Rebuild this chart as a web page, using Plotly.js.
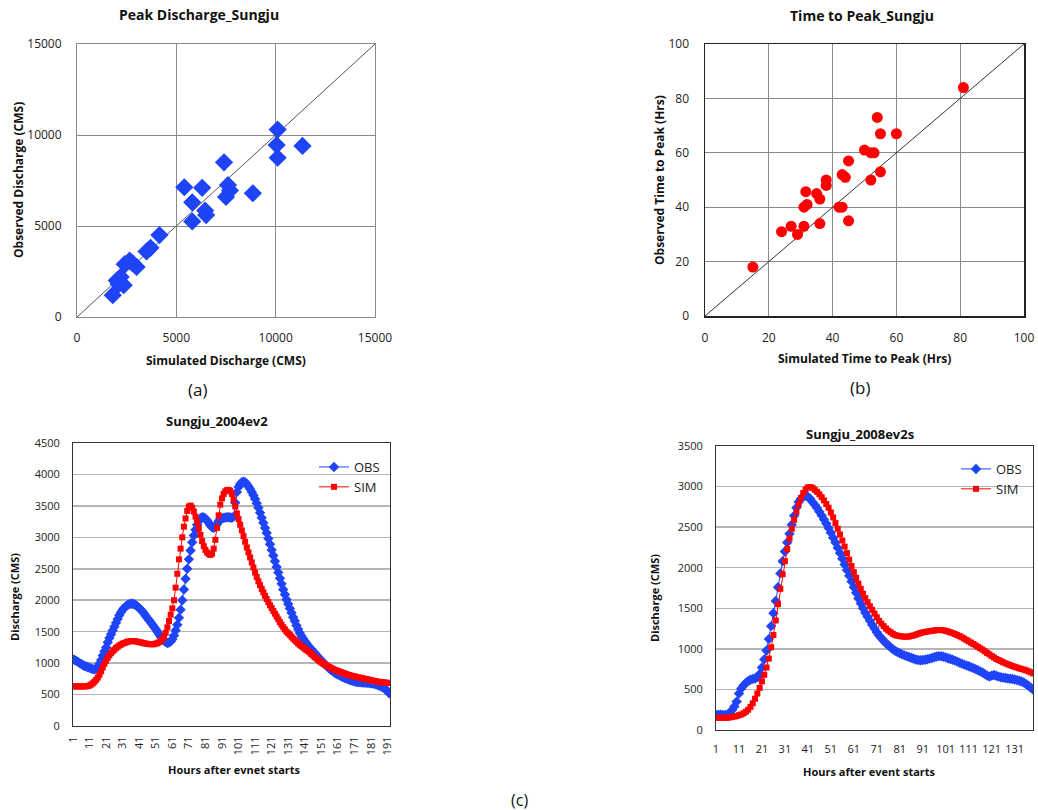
<!DOCTYPE html>
<html>
<head>
<meta charset="utf-8">
<script src="https://cdn.plot.ly/plotly-3.0.1.min.js"></script>
<style>html,body{margin:0;padding:0;background:#fff;}#chart{width:1038px;height:810px;}</style>
</head>
<body>
<div id="chart"></div>
<script>
// ---------- (a) Peak discharge, Sungju ----------
const peakSim = [10100, 10050, 11350, 10100, 7400, 5400, 6300, 7600, 7700, 7500, 8850, 5800, 6450, 6500, 5800, 4150, 3700, 3500, 2650, 2800, 3000, 2400, 2200, 2000, 2350, 1800, 2100];
const peakObs = [10300, 9450, 9400, 8750, 8500, 7130, 7100, 7250, 6950, 6600, 6800, 6300, 5850, 5600, 5250, 4500, 3800, 3600, 3100, 2950, 2750, 2900, 2200, 2000, 1750, 1200, 1800];
const peakLine = [0, 15000];
const peakTicks = [0, 5000, 10000, 15000];

// ---------- (b) Time to peak, Sungju ----------
const ttpSim = [81, 54, 55, 60, 50, 52, 53, 45, 43, 44, 55, 52, 38, 38, 31.6, 35, 36, 32, 31, 42, 43, 45, 36, 27, 31, 24, 29, 15];
const ttpObs = [84, 73, 67, 67, 61, 60, 60, 57, 52, 51, 53, 50, 50, 48, 45.7, 45, 43, 41, 40, 40, 40, 35, 34, 33, 33, 31, 30, 18];
const ttpLine = [0, 100];
const ttpTicks = [0, 20, 40, 60, 80, 100];

// ---------- (c) Sungju_2004ev2 (hours 1..192) ----------
const obs2004 = [
 1060,1050,1035,1020,1000,985,970,955,945,935,
 925,915,905,900,910,940,990,1050,1120,1190,
 1250,1330,1400,1460,1520,1580,1640,1700,1760,1810,
 1850,1880,1905,1925,1938,1945,1945,1935,1920,1900,
 1875,1850,1820,1785,1750,1715,1680,1645,1610,1575,
 1540,1500,1460,1420,1385,1355,1335,1320,1325,1345,
 1380,1440,1520,1610,1720,1850,2000,2170,2340,2500,
 2650,2790,2920,3030,3120,3200,3260,3300,3320,3315,
 3300,3270,3230,3190,3160,3150,3170,3210,3260,3290,
 3300,3310,3315,3320,3320,3315,3310,3330,3550,3720,
 3800,3850,3875,3885,3875,3850,3810,3770,3720,3670,
 3610,3540,3470,3390,3310,3230,3150,3070,2980,2890,
 2800,2710,2620,2530,2440,2350,2260,2170,2090,2010,
 1940,1870,1800,1730,1670,1600,1540,1480,1430,1390,
 1350,1315,1280,1250,1220,1190,1160,1130,1100,1070,
 1040,1010,985,960,935,910,890,870,850,835,
 820,805,792,780,768,756,745,735,725,717,
 710,704,700,697,694,692,690,688,686,684,
 680,676,670,662,652,642,630,616,600,582,
 555,520];
const sim2004 = [
 630,630,630,630,630,630,630,630,632,635,
 645,660,680,705,735,770,815,870,930,990,
 1040,1085,1125,1160,1190,1215,1240,1260,1280,1295,
 1310,1320,1330,1340,1345,1350,1352,1350,1345,1340,
 1335,1328,1322,1316,1310,1305,1302,1300,1300,1302,
 1308,1318,1332,1350,1380,1420,1480,1570,1670,1770,
 1870,2000,2200,2420,2650,2820,3000,3170,3300,3420,
 3490,3505,3470,3410,3330,3240,3140,3040,2940,2860,
 2800,2760,2735,2720,2740,2820,2960,3150,3350,3520,
 3620,3690,3730,3750,3755,3740,3690,3600,3490,3380,
 3290,3200,3110,3020,2930,2840,2760,2680,2600,2520,
 2440,2370,2300,2240,2180,2125,2070,2020,1970,1920,
 1875,1830,1785,1740,1695,1650,1610,1570,1535,1500,
 1475,1450,1420,1390,1365,1340,1315,1290,1270,1250,
 1230,1210,1190,1170,1145,1120,1095,1075,1055,1030,
 1010,995,980,965,950,935,920,905,895,885,
 875,865,855,845,835,825,815,808,800,795,
 788,782,776,770,764,758,752,746,740,734,
 728,722,716,711,706,701,698,695,692,689,
 686,684];
const hours2004 = obs2004.map((_, i) => i + 1);
const ticks2004 = [1,11,21,31,41,51,61,71,81,91,101,111,121,131,141,151,161,171,181,191];

// ---------- (d) Sungju_2008ev2s (hours 1..139) ----------
const obs2008 = [
 185,190,190,185,185,190,210,245,290,350,
 450,510,550,580,605,620,630,635,650,690,
 770,870,980,1120,1280,1440,1590,1760,1930,2080,
 2200,2310,2420,2530,2640,2740,2810,2850,2880,2885,
 2875,2850,2810,2775,2735,2690,2645,2595,2545,2490,
 2430,2370,2310,2245,2180,2110,2040,1970,1900,1830,
 1760,1690,1620,1560,1500,1445,1395,1345,1295,1250,
 1205,1165,1130,1100,1070,1045,1020,995,975,960,
 945,932,920,910,900,890,878,868,862,860,
 862,866,872,880,888,896,905,910,908,903,
 895,885,875,865,855,843,830,818,806,796,
 786,775,763,750,737,722,708,690,670,660,
 670,678,668,658,650,645,640,636,632,628,
 622,615,607,598,585,565,545,522,500];
const sim2008 = [
 150,150,150,150,150,152,155,160,166,172,
 182,192,205,225,250,285,330,385,450,520,
 600,680,770,880,1020,1170,1350,1550,1740,1920,
 2080,2230,2360,2480,2590,2690,2780,2860,2920,2965,
 2990,2995,2985,2960,2935,2905,2870,2830,2785,2740,
 2680,2620,2550,2480,2410,2335,2260,2180,2100,2020,
 1945,1875,1805,1740,1680,1625,1575,1525,1480,1435,
 1390,1345,1310,1280,1250,1225,1205,1185,1170,1162,
 1157,1153,1150,1150,1152,1158,1165,1175,1185,1195,
 1203,1208,1213,1218,1222,1226,1230,1232,1232,1228,
 1222,1214,1204,1194,1183,1170,1157,1143,1127,1110,
 1093,1077,1060,1043,1025,1007,990,970,950,932,
 912,894,876,862,848,835,822,810,799,789,
 779,770,760,752,744,735,724,712,698];
const hours2008 = obs2008.map((_, i) => i + 1);
const ticks2008 = [1,11,21,31,41,51,61,71,81,91,101,111,121,131];

// ---------- helpers ----------
const W = 1038, H = 810;
const px = v => v / W;
const py = v => 1 - v / H;
const FONT = 'Open Sans, Liberation Sans, sans-serif';
const BLUE = '#1f44f8';
const RED = '#ff0000';

const traces = [
  {x: peakLine, y: peakLine, xaxis: 'x', yaxis: 'y', mode: 'lines', line: {color: '#555', width: 1}, showlegend: false, hoverinfo: 'skip'},
  {x: peakSim, y: peakObs, xaxis: 'x', yaxis: 'y', mode: 'markers', marker: {symbol: 'diamond', size: 14, color: BLUE}, showlegend: false},
  {x: ttpLine, y: ttpLine, xaxis: 'x2', yaxis: 'y2', mode: 'lines', line: {color: '#333', width: 1}, showlegend: false, hoverinfo: 'skip'},
  {x: ttpSim, y: ttpObs, xaxis: 'x2', yaxis: 'y2', mode: 'markers', marker: {symbol: 'circle', size: 11, color: RED}, showlegend: false},
  {x: hours2004, y: obs2004, xaxis: 'x3', yaxis: 'y3', name: 'OBS', mode: 'lines+markers', line: {color: BLUE, width: 1}, marker: {symbol: 'diamond', size: 8, color: BLUE}, legend: 'legend'},
  {x: hours2004, y: sim2004, xaxis: 'x3', yaxis: 'y3', name: 'SIM', mode: 'lines+markers', line: {color: RED, width: 1}, marker: {symbol: 'square', size: 6, color: RED}, legend: 'legend'},
  {x: hours2008, y: obs2008, xaxis: 'x4', yaxis: 'y4', name: 'OBS', mode: 'lines+markers', line: {color: BLUE, width: 1}, marker: {symbol: 'diamond', size: 8, color: BLUE}, legend: 'legend2'},
  {x: hours2008, y: sim2008, xaxis: 'x4', yaxis: 'y4', name: 'SIM', mode: 'lines+markers', line: {color: RED, width: 1}, marker: {symbol: 'square', size: 6, color: RED}, legend: 'legend2'}
];

const tickFontTop = {family: FONT, size: 12, color: '#222'};
const tickFontBot = {family: FONT, size: 11, color: '#222'};

function ann(text, x, y, size, bold, rot) {
  return {text: bold ? '<b>' + text + '</b>' : text, x: px(x), y: py(y), xref: 'paper', yref: 'paper',
          xanchor: 'center', yanchor: 'middle', showarrow: false, textangle: rot || 0,
          font: {family: FONT, size: size, color: '#111'}};
}

const layout = {
  width: W, height: H, autosize: false,
  margin: {l: 0, r: 0, t: 0, b: 0},
  paper_bgcolor: '#fff', plot_bgcolor: '#fff',
  font: {family: FONT},
  xaxis: {domain: [px(77), px(375)], range: [0, 15000], tickvals: peakTicks, tickformat: 'd', showgrid: true, gridcolor: '#8a8a8a', gridwidth: 1,
          zeroline: false, showline: true, mirror: true, linecolor: '#8a8a8a', linewidth: 1, ticks: '', tickfont: tickFontTop, ticklabelstandoff: 10, anchor: 'y'},
  yaxis: {domain: [py(317), py(44)], range: [0, 15000], tickvals: peakTicks, tickformat: 'd', showgrid: true, gridcolor: '#8a8a8a', gridwidth: 1,
          zeroline: false, showline: true, mirror: true, linecolor: '#8a8a8a', linewidth: 1, ticks: '', tickfont: tickFontTop, ticklabelstandoff: 12, anchor: 'x'},
  xaxis2: {domain: [px(705), px(1024)], range: [0, 100], tickvals: ttpTicks, showgrid: true, gridcolor: '#8a8a8a', gridwidth: 1.3,
          zeroline: false, showline: true, mirror: true, linecolor: '#222', linewidth: 1.5, ticks: '', tickfont: tickFontTop, ticklabelstandoff: 10, anchor: 'y2'},
  yaxis2: {domain: [py(316), py(44)], range: [0, 100], tickvals: ttpTicks, showgrid: true, gridcolor: '#8a8a8a', gridwidth: 1.3,
          zeroline: false, showline: true, mirror: true, linecolor: '#222', linewidth: 1.5, ticks: '', tickfont: tickFontTop, ticklabelstandoff: 12, anchor: 'x2'},
  xaxis3: {domain: [px(73), px(390)], range: [1, 192.5], tickvals: ticks2004, tickangle: -90, showgrid: false,
          zeroline: false, showline: true, mirror: true, linecolor: '#333', linewidth: 1, ticks: '', tickfont: tickFontBot, ticklabelstandoff: 5, anchor: 'y3'},
  yaxis3: {domain: [py(726), py(443)], range: [0, 4500], dtick: 500, tickformat: 'd', showgrid: true, gridcolor: '#b4b4b4', gridwidth: 1.5,
          zeroline: false, showline: true, mirror: true, linecolor: '#333', linewidth: 1, ticks: '', tickfont: tickFontBot, ticklabelstandoff: 10, anchor: 'x3'},
  xaxis4: {domain: [px(716), px(1033)], range: [1, 139], tickvals: ticks2008, showgrid: false,
          zeroline: false, showline: true, mirror: true, linecolor: '#333', linewidth: 1, ticks: '', tickfont: tickFontBot, ticklabelstandoff: 9, anchor: 'y4'},
  yaxis4: {domain: [py(730), py(446)], range: [0, 3500], dtick: 500, tickformat: 'd', showgrid: true, gridcolor: '#b4b4b4', gridwidth: 1.5,
          zeroline: false, showline: true, mirror: true, linecolor: '#333', linewidth: 1, ticks: '', tickfont: tickFontBot, ticklabelstandoff: 10, anchor: 'x4'},
  legend: {x: px(314), y: py(452), xanchor: 'left', yanchor: 'top', bgcolor: 'rgba(0,0,0,0)', borderwidth: 0,
           font: {family: FONT, size: 13, color: '#222'}, itemwidth: 30, tracegroupgap: 0},
  legend2: {x: px(956), y: py(454), xanchor: 'left', yanchor: 'top', bgcolor: 'rgba(0,0,0,0)', borderwidth: 0,
           font: {family: FONT, size: 13, color: '#222'}, itemwidth: 30, tracegroupgap: 0},
  annotations: [
    ann('Peak Discharge_Sungju', 199, 15, 14, true),
    ann('Observed Discharge (CMS)', 18, 180, 12, true, -90),
    ann('Simulated Discharge (CMS)', 226, 360, 12, true),
    ann('(a)', 197, 389, 17, false),
    ann('Time to Peak_Sungju', 862, 16, 14, true),
    ann('Observed Time to Peak (Hrs)', 659, 180, 12, true, -90),
    ann('Simulated Time to Peak (Hrs)', 864, 358, 12, true),
    ann('(b)', 860, 388, 17, false),
    ann('Sungju_2004ev2', 217, 421, 13, true),
    ann('Discharge (CMS)', 14, 597, 11, true, -90),
    ann('Hours after evnet starts', 234, 769, 11, true),
    ann('Sungju_2008ev2s', 860, 434, 13, true),
    ann('Discharge (CMS)', 654, 598, 11, true, -90),
    ann('Hours after event starts', 869, 771, 11, true),
    ann('(c)', 519, 800, 16, false)
  ]
};

Plotly.newPlot('chart', traces, layout, {displayModeBar: false, staticPlot: true});
</script>
</body>
</html>
